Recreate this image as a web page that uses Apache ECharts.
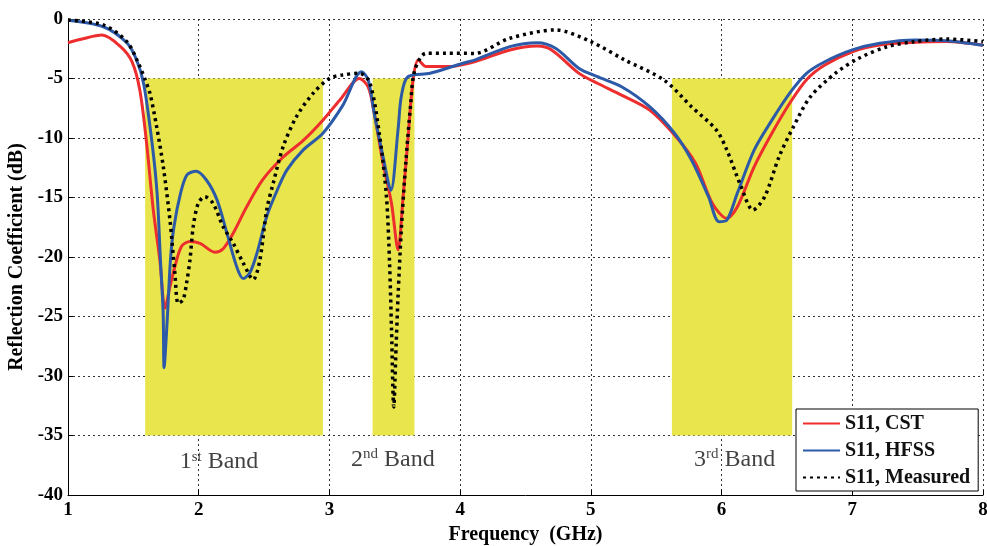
<!DOCTYPE html>
<html>
<head>
<meta charset="utf-8">
<script src="https://cdn.jsdelivr.net/npm/echarts@6/dist/echarts.min.js"></script>
<style>
html,body{margin:0;padding:0;background:#fff;}
#c{width:987px;height:546px;}
</style>
</head>
<body>
<div id="c"></div>
<script>
// ---- data ----
var seriesNames = ['S11, CST', 'S11, HFSS', 'S11, Measured'];

var cstFreq = [1.0, 1.1, 1.26, 1.40, 1.49, 1.55, 1.60, 1.652, 1.703, 1.742, 1.78, 1.818, 1.869, 1.933, 2.01, 2.124, 2.187, 2.264, 2.366, 2.49, 2.646, 2.8, 2.95, 3.08, 3.23, 3.296, 3.334, 3.41, 3.475, 3.525, 3.564, 3.60, 3.64, 3.68, 3.74, 3.82, 3.92, 4.11, 4.38, 4.59, 4.70, 4.91, 5.05, 5.235, 5.45, 5.64, 5.80, 5.93, 6.04, 6.12, 6.25, 6.385, 6.52, 6.65, 6.79, 7.0, 7.21, 7.48, 7.72, 8.0];
var cstS11 = [-2.0, -1.7, -1.35, -2.3, -3.6, -6.0, -10.3, -16.0, -20.3, -24.3, -22.5, -20.8, -19.1, -18.7, -18.85, -19.6, -19.3, -18.0, -15.8, -13.5, -11.6, -10.2, -8.5, -6.8, -5.0, -5.7, -7.4, -12.1, -15.5, -19.4, -14.9, -10.2, -5.1, -3.45, -4.0, -4.0, -4.0, -3.6, -2.6, -2.27, -2.6, -4.57, -5.4, -6.39, -7.65, -9.75, -12.1, -15.5, -16.75, -15.8, -12.4, -9.6, -7.1, -5.1, -3.87, -2.75, -2.18, -1.96, -1.9, -2.2];

var hfssFreq = [1.0, 1.27, 1.45, 1.525, 1.58, 1.644, 1.682, 1.707, 1.728, 1.735, 1.758, 1.784, 1.81, 1.86, 1.91, 1.98, 2.06, 2.14, 2.216, 2.29, 2.34, 2.39, 2.445, 2.52, 2.6, 2.674, 2.8, 2.95, 3.10, 3.245, 3.296, 3.347, 3.41, 3.47, 3.525, 3.55, 3.60, 3.77, 4.02, 4.11, 4.38, 4.59, 4.73, 4.91, 5.05, 5.235, 5.45, 5.64, 5.77, 5.90, 5.98, 6.04, 6.12, 6.25, 6.385, 6.52, 6.65, 6.79, 7.0, 7.21, 7.48, 7.72, 8.0];
var hfssS11 = [-0.1, -0.65, -2.0, -3.45, -5.5, -10.5, -14.7, -20.2, -24.7, -29.3, -25.5, -20.2, -17.5, -14.7, -13.1, -12.8, -13.55, -15.2, -18.0, -20.8, -21.8, -21.35, -19.7, -16.6, -14.4, -12.7, -11.0, -9.6, -7.3, -4.43, -5.1, -8.2, -11.57, -14.4, -9.3, -6.5, -4.85, -4.56, -3.72, -3.45, -2.32, -1.99, -2.46, -4.15, -4.85, -5.69, -7.37, -9.6, -11.85, -14.93, -17.03, -16.9, -14.65, -11.0, -8.5, -6.25, -4.57, -3.59, -2.6, -2.04, -1.76, -1.82, -2.2];

var measFreq = [1.0, 1.27, 1.45, 1.55, 1.59, 1.627, 1.678, 1.729, 1.78, 1.818, 1.843, 1.88, 1.907, 1.933, 1.958, 1.996, 2.047, 2.11, 2.187, 2.264, 2.34, 2.417, 2.468, 2.52, 2.57, 2.646, 2.748, 2.875, 3.0, 3.10, 3.23, 3.31, 3.385, 3.436, 3.46, 3.475, 3.492, 3.51, 3.525, 3.55, 3.584, 3.62, 3.653, 3.74, 3.895, 4.11, 4.38, 4.73, 5.0, 5.26, 5.56, 5.77, 5.96, 6.04, 6.15, 6.24, 6.33, 6.44, 6.55, 6.68, 6.87, 7.05, 7.27, 7.48, 7.72, 8.0];
var measS11 = [-0.08, -0.5, -1.9, -4.0, -5.1, -6.25, -9.05, -12.4, -16.9, -21.4, -23.9, -23.6, -22.2, -20.25, -17.45, -15.5, -14.93, -15.5, -17.45, -18.85, -20.5, -21.9, -20.25, -16.05, -13.8, -10.73, -8.2, -6.25, -5.0, -4.7, -4.56, -5.4, -9.9, -14.9, -20.5, -26.1, -32.6, -27.5, -23.3, -17.7, -12.1, -7.37, -4.3, -2.88, -2.88, -2.89, -1.62, -0.92, -1.9, -3.45, -5.13, -7.37, -9.33, -11.0, -14.1, -16.05, -14.93, -11.57, -9.05, -6.53, -4.57, -3.3, -2.32, -1.9, -1.68, -1.9];

// shaded bands: [startGHz, endGHz, topDb, bottomDb]
var bandStart = [1.59, 3.33, 5.62];
var bandEnd = [2.95, 3.65, 6.54];
var bandTop = [-5, -5, -5];
var bandBottom = [-35, -35, -35];
// band labels
var bandLabelFreq = [2.155, 3.485, 6.10];
var bandLabelDb = [-37.2, -37.0, -37.0];
var bandLabelNum = ['1', '2', '3'];
var bandLabelSup = ['st', 'nd', 'rd'];

var xTicks = [1, 2, 3, 4, 5, 6, 7, 8];
var yTicks = [-40, -35, -30, -25, -20, -15, -10, -5, 0];

function zip(a, b) { return a.map(function (v, i) { return [v, b[i]]; }); }

var FONT = '"Liberation Serif", "Times New Roman", serif';
var chart = echarts.init(document.getElementById('c'), null, { renderer: 'canvas' });

var markAreaData = bandStart.map(function (s, i) {
  return [{ coord: [s, bandTop[i]] }, { coord: [bandEnd[i], bandBottom[i]] }];
});

var option = {
  backgroundColor: '#ffffff',
  animation: false,
  grid: { left: 68, right: 4, top: 19, bottom: 51, containLabel: false, outerBoundsMode: 'none' },
  legend: {
    data: seriesNames,
    orient: 'vertical',
    left: 796, top: 409,
    backgroundColor: '#ffffff',
    borderColor: '#000',
    borderWidth: 1,
    borderRadius: 0,
    padding: [4, 8, 3, 6],
    itemGap: 6,
    itemWidth: 37,
    itemHeight: 14,
    itemStyle: { color: 'rgba(0,0,0,0)', borderColor: 'rgba(0,0,0,0)', borderWidth: 0 },
    textStyle: { fontFamily: FONT, fontWeight: 'bold', fontSize: 20, color: '#111', lineHeight: 21 }
  },
  xAxis: {
    type: 'value', min: xTicks[0], max: xTicks[xTicks.length - 1], interval: 1,
    name: 'Frequency  (GHz)', nameLocation: 'middle', nameGap: 29,
    nameTextStyle: { fontFamily: FONT, fontWeight: 'bold', fontSize: 20, color: '#000' },
    axisLine: { show: true, onZero: false, lineStyle: { color: '#000', width: 1 } },
    axisTick: { show: true, inside: true, length: 5, lineStyle: { color: '#000' } },
    axisLabel: { fontFamily: FONT, fontWeight: 'bold', fontSize: 19, color: '#000', margin: 6 },
    splitLine: { show: true, lineStyle: { color: '#333', width: 1, type: [2, 3] } }
  },
  yAxis: {
    type: 'value', min: yTicks[0], max: yTicks[yTicks.length - 1], interval: 5,
    name: 'Reflection Coefficient (dB)', nameLocation: 'middle', nameGap: 36,
    nameTextStyle: { fontFamily: FONT, fontWeight: 'bold', fontSize: 20, color: '#000' },
    axisLine: { show: true, onZero: false, lineStyle: { color: '#000', width: 1 } },
    axisTick: { show: true, inside: true, length: 5, lineStyle: { color: '#000' } },
    axisLabel: { fontFamily: FONT, fontWeight: 'bold', fontSize: 19, color: '#000', margin: 5 },
    splitLine: { show: true, lineStyle: { color: '#333', width: 1, type: [2, 3] } }
  },
  series: [
    {
      name: 'bands', type: 'line', data: [], silent: true,
      markArea: { silent: true, itemStyle: { color: '#E8E64C', opacity: 1 }, data: markAreaData }
    },
    {
      name: 'labels', type: 'scatter', symbolSize: 0, silent: true, z: 1,
      data: bandLabelFreq.map(function (f, i) { return [f, bandLabelDb[i], i]; }),
      label: {
        show: true, position: 'inside',
        formatter: function (p) { var i = p.value[2]; return bandLabelNum[i] + '{sup|' + bandLabelSup[i] + '} Band'; },
        fontFamily: FONT, fontSize: 24, color: '#111',
        rich: { sup: { fontFamily: FONT, fontSize: 15, color: '#111', verticalAlign: 'top', padding: [0, 0, 10, 0] } }
      }
    },
    {
      name: seriesNames[0], type: 'line', data: zip(cstFreq, cstS11), symbol: 'none', smooth: 0.3, z: 3,
      lineStyle: { color: '#EE2E2E', width: 3 }, itemStyle: { color: '#EE2E2E' }
    },
    {
      name: seriesNames[1], type: 'line', data: zip(hfssFreq, hfssS11), symbol: 'none', smooth: 0.3, z: 4,
      lineStyle: { color: '#2C5AA8', width: 3 }, itemStyle: { color: '#2C5AA8' }
    },
    {
      name: seriesNames[2], type: 'line', data: zip(measFreq, measS11), symbol: 'none', smooth: 0.3, z: 5,
      lineStyle: { color: '#000', width: 3.5, type: [3, 4] }, itemStyle: { color: '#000' }
    }
  ]
};
chart.setOption(option);
</script>
</body>
</html>
